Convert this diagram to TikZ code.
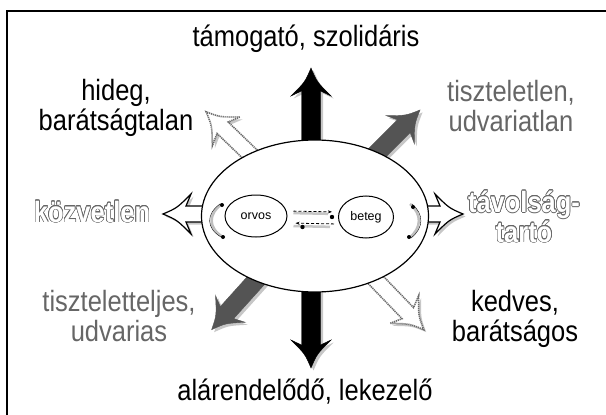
\documentclass[tikz,border=0pt]{standalone}
\usepackage{fontspec}
\setmainfont{Liberation Sans}
\usepackage{contour}
\contourlength{0.6pt}
\usetikzlibrary{arrows.meta}
\usetikzlibrary{shapes.geometric}

\definecolor{darkarrow}{gray}{0.33}
\definecolor{polegray}{gray}{0.40}
\definecolor{rimgray}{gray}{0.40}

% block arrow: style, start, angle, length, half shaft width
\newcommand{\arrowpath}[2]{(0,-#2) -- ({#1-23},-#2) -- ({#1-28},-20) .. controls ({#1-14},-6) .. (#1,0) .. controls ({#1-14},6) .. ({#1-28},20) -- ({#1-23},#2) -- (0,#2) -- cycle}
\newcommand{\blockarrow}[5][]{%
  \begin{scope}[shift={#2},xshift=2.5pt,yshift=-2.5pt,rotate=#3]
    \fill[black,opacity=0.22] \arrowpath{#4}{#5};
  \end{scope}
  \begin{scope}[shift={#2},rotate=#3]
    \draw[#1] \arrowpath{#4}{#5};
  \end{scope}}

\tikzset{
  pole/.style={font=\fontsize{25.5}{26}\selectfont, align=center, inner sep=0pt, yscale=1.15},
  hollowpole/.style={pole, font=\fontsize{25.5}{26}\selectfont\bfseries, text=white},
  solidarrow/.style={fill=black, draw=black},
  greyarrow/.style={fill=darkarrow, draw=darkarrow},
  dottedarrow/.style={fill=white, draw=gray!85!black, line width=1.6pt, dash pattern=on 1.2pt off 0.8pt},
  openarrow/.style={fill=white, draw=black, line width=1.2pt},
  actor/.style={draw, ellipse, line width=1pt, minimum width=62pt, minimum height=42pt, font=\fontsize{12.5}{14}\selectfont}
}

\begin{document}
\begin{tikzpicture}[x=1pt,y=-1pt]
  \useasboundingbox (0,0) rectangle (606,415);

  % frame
  \draw[line width=2pt] (7,11) rectangle (640,440);

  % arrows out of the big ellipse
  \blockarrow[solidarrow]{(311,216)}{90}{148}{9.5}
  \blockarrow[solidarrow]{(311,216)}{-90}{152}{9.5}
  \blockarrow[greyarrow]{(314,216)}{45}{150}{9}
  \blockarrow[greyarrow]{(314,216)}{-132}{153}{9}
  \blockarrow[dottedarrow]{(314,216)}{136}{150}{8}
  \blockarrow[dottedarrow]{(314,216)}{-46}{158}{8}
  \blockarrow[openarrow]{(314,214)}{180}{151}{8}
  \blockarrow[openarrow]{(314,214)}{0}{149}{8}

  % big ellipse
  \node[draw, ellipse, fill=white, line width=1.2pt, minimum width=227pt, minimum height=152pt] (relation) at (315,216) {};

  % doctor and patient
  \node[actor] (orvos) at (256,216) {orvos};
  \node[actor, minimum width=55pt] (beteg) at (366,217) {beteg};

  % messages between them
  \draw[gray!45, line width=2.5pt, shorten <=6pt, shorten >=10pt] ([yshift=3pt]orvos.east) -- ([yshift=3pt]beteg.west);
  \draw[densely dashed, thick, -{Stealth[length=4pt]}, shorten <=6pt, shorten >=6pt] ([yshift=5pt]orvos.east) -- ([yshift=5pt]beteg.west);
  \fill ([xshift=-6pt,yshift=0pt]beteg.west) circle (2.2pt);
  \draw[gray!45, line width=2.5pt, shorten <=8pt, shorten >=6pt] ([yshift=-10pt]beteg.west) -- ([yshift=-10pt]orvos.east);
  \draw[densely dashed, thick, -{Stealth[length=4pt]}, shorten <=4pt, shorten >=8pt] ([yshift=-7pt]beteg.west) -- ([yshift=-7pt]orvos.east);
  \fill ([xshift=15pt,yshift=-11pt]orvos.east) circle (2.2pt);

  % feedback arcs
  \draw[gray!50, line width=2.5pt] (222,204) .. controls (208,214) and (208,228) .. (223,237);
  \draw[thin] (220,204) .. controls (206,214) and (206,228) .. (221,237);
  \fill (222,205) circle (2pt) (223,237) circle (2pt);
  \draw[gray!50, line width=2.5pt] (410,204) .. controls (422,214) and (422,228) .. (409,238);
  \draw[thin] (412,204) .. controls (424,214) and (424,228) .. (411,238);
  \fill (413,207) circle (2pt) (409,237) circle (2pt);

  % labels
  \node[pole] (up) at (306,39) {támogató, szolidáris};
  \node[pole] (down) at (305,392) {alárendelődő, lekezelő};
  \node[pole] (upleft) at (116,108) {hideg,\\barátságtalan};
  \node[pole, text=polegray] (upright) at (511,106) {tiszteletlen,\\udvariatlan};
  \node[pole, text=polegray] (downleft) at (119,316) {tiszteletteljes,\\udvarias};
  \node[pole] (downright) at (515,319) {kedves,\\barátságos};
  \node[hollowpole] (left) at (92,212) {\contour{rimgray}{közvetlen}};
  \node[hollowpole] (right) at (524,217) {\contour{rimgray}{távolság-}\\\contour{rimgray}{tartó}};
\end{tikzpicture}
\end{document}
